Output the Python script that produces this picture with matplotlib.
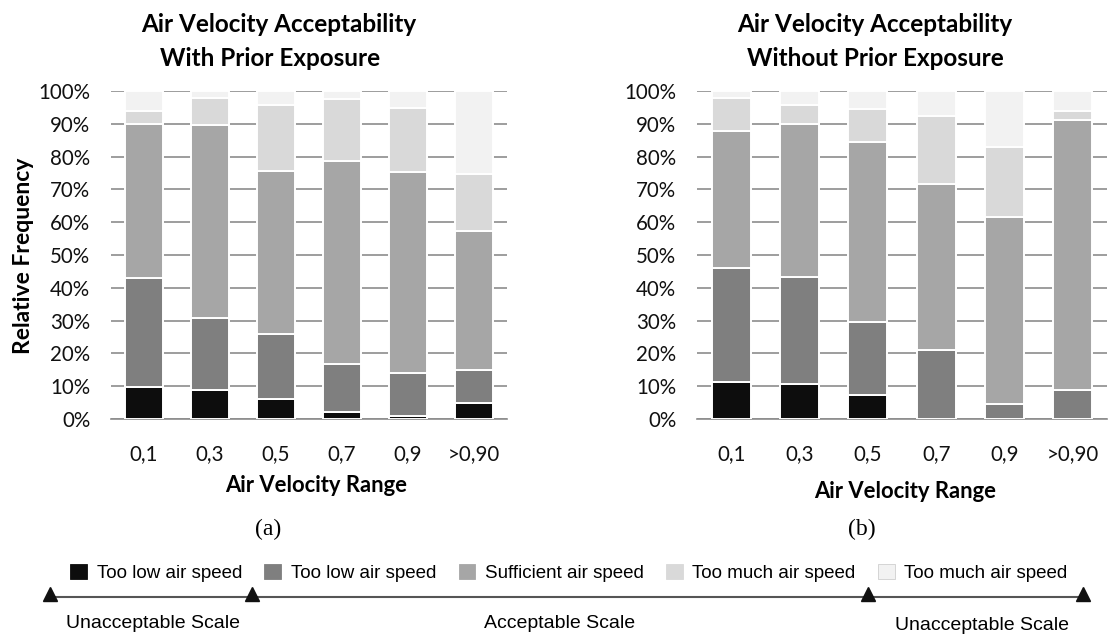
import numpy as np
import matplotlib
matplotlib.use('Agg')
import matplotlib.pyplot as plt
from matplotlib.patches import Rectangle
from matplotlib.lines import Line2D

plt.rcParams['font.family'] = ['Lato', 'DejaVu Sans']

categories = ['0,1', '0,3', '0,5', '0,7', '0,9', '>0,90']
series_names = ['Too low air speed', 'Too low air speed', 'Sufficient air speed',
                'Too much air speed', 'Too much air speed']
colors = ['#0d0d0d', '#7f7f7f', '#a6a6a6', '#d9d9d9', '#f2f2f2']

# (a) with prior exposure, % per class
with_low_unacc = [9.7, 8.7, 6.1, 2.1, 0.8, 4.9]
with_low_acc = [33.4, 22.2, 19.8, 14.8, 13.3, 9.9]
with_sufficient = [46.8, 58.7, 49.8, 61.9, 61.3, 42.5]
with_much_acc = [4.1, 8.4, 20.0, 18.7, 19.3, 17.4]
with_much_unacc = [6.0, 2.0, 4.3, 2.5, 5.3, 25.3]

# (b) without prior exposure
without_low_unacc = [11.3, 10.6, 7.2, 0.0, 0.0, 0.0]
without_low_acc = [34.8, 32.7, 22.3, 20.9, 4.5, 8.8]
without_sufficient = [41.8, 46.6, 54.9, 50.7, 57.0, 82.3]
without_much_acc = [10.0, 5.9, 10.1, 20.8, 21.4, 2.9]
without_much_unacc = [2.1, 4.2, 5.5, 7.6, 17.1, 6.0]

yticks = [0, 10, 20, 30, 40, 50, 60, 70, 80, 90, 100]

W, H = 1115, 635
fig = plt.figure(figsize=(W / 100, H / 100), dpi=100)

def fx(px):
    return px / W

def fy(py):
    return 1 - py / H

ax1 = fig.add_axes([fx(111), fy(419), fx(507) - fx(111), fy(91) - fy(419)])
ax2 = fig.add_axes([fx(697), fy(419), fx(1107) - fx(697), fy(91) - fy(419)])

def draw_stack(ax, data):
    x = np.arange(len(categories))
    bottom = np.zeros(len(categories))
    for vals, c in zip(data, colors):
        ax.bar(x, vals, 0.57, bottom=bottom, color=c, edgecolor='white',
               linewidth=1.4, zorder=3)
        bottom += np.array(vals)
    ax.set_xlim(-0.5, len(categories) - 0.5)
    ax.set_ylim(0, 100)
    ax.set_yticks(yticks)
    ax.set_yticklabels([f'{t}%' for t in yticks])
    ax.set_xticks(x)
    ax.set_xticklabels(categories)
    ax.grid(axis='y', color='#8c8c8c', linewidth=1.2, zorder=0)
    for s in ['top', 'right', 'left']:
        ax.spines[s].set_visible(False)
    ax.spines['bottom'].set_color('#8c8c8c')
    ax.spines['bottom'].set_linewidth(1.2)
    ax.tick_params(axis='both', length=0, labelsize=14.8, colors='#111111')
    ax.tick_params(axis='y', pad=15)
    ax.tick_params(axis='x', pad=18)

draw_stack(ax1, [with_low_unacc, with_low_acc, with_sufficient, with_much_acc, with_much_unacc])
draw_stack(ax2, [without_low_unacc, without_low_acc, without_sufficient, without_much_acc, without_much_unacc])

# titles
fig.text(fx(279), fy(25), 'Air Velocity Acceptability', ha='center', va='center',
         fontsize=17.5, fontweight='bold')
fig.text(fx(270), fy(59), 'With Prior Exposure', ha='center', va='center',
         fontsize=17.5, fontweight='bold')
fig.text(fx(875), fy(25), 'Air Velocity Acceptability', ha='center', va='center',
         fontsize=17.5, fontweight='bold')
fig.text(fx(875), fy(59), 'Without Prior Exposure', ha='center', va='center',
         fontsize=17.5, fontweight='bold')

fig.text(fx(24), fy(256), 'Relative Frequency', ha='center', va='center',
         rotation=90, fontsize=16.5, fontweight='bold')
fig.text(fx(316), fy(486), 'Air Velocity Range', ha='center', va='center',
         fontsize=15.8, fontweight='bold')
fig.text(fx(905), fy(491), 'Air Velocity Range', ha='center', va='center',
         fontsize=15.8, fontweight='bold')

fig.text(fx(268), fy(529), '(a)', ha='center', va='center', fontsize=17,
         family='Liberation Serif')
fig.text(fx(862), fy(529), '(b)', ha='center', va='center', fontsize=17,
         family='Liberation Serif')

# legend
handles = [Rectangle((0, 0), 1, 1, facecolor=c,
                     edgecolor='#cfcfcf' if c == '#f2f2f2' else c, linewidth=0.6)
           for c in colors]
fig.legend(handles, series_names, ncol=5, loc='center',
           bbox_to_anchor=(fx(569), fy(573)), frameon=False,
           prop={'family': 'Liberation Sans', 'size': 13.5},
           handlelength=0.9, handleheight=0.9, handletextpad=0.5,
           columnspacing=1.2, borderpad=0)

# acceptability scale
scale_x = [50, 252, 868, 1083]
fig.add_artist(Line2D([fx(scale_x[0]), fx(scale_x[-1])], [fy(597), fy(597)],
                      color='#555555', linewidth=1.5))
fig.add_artist(Line2D([fx(p) for p in scale_x], [fy(594)] * len(scale_x),
                      linestyle='none', marker='^', markersize=10,
                      color='#111111'))
fig.text(fx(153), fy(623), 'Unacceptable Scale', ha='center', va='center',
         fontsize=14, family='Liberation Sans')
fig.text(fx(560), fy(623), 'Acceptable Scale', ha='center', va='center',
         fontsize=14, family='Liberation Sans')
fig.text(fx(982), fy(625), 'Unacceptable Scale', ha='center', va='center',
         fontsize=14, family='Liberation Sans')

fig.savefig('out.png', dpi=100)
